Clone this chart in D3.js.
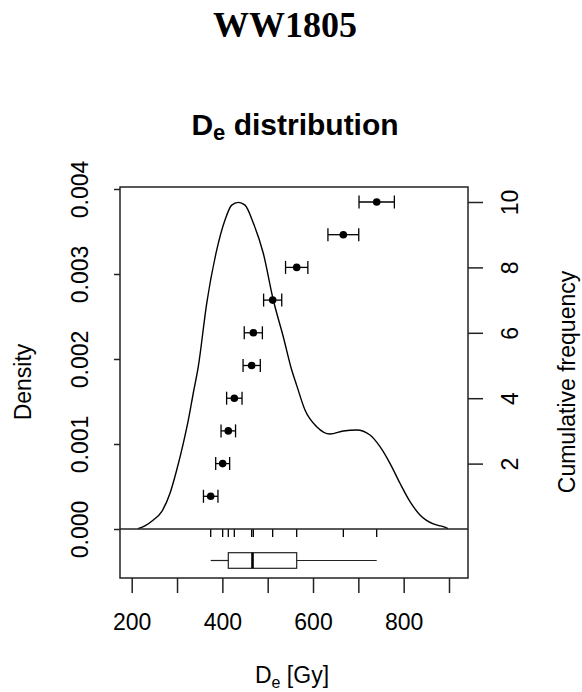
<!DOCTYPE html>
<html>
<head>
<meta charset="utf-8">
<script src="https://cdn.jsdelivr.net/npm/d3@7"></script>
<style>
  body { margin: 0; background: #fff; }
  text { font-family: "Liberation Sans", Arial, sans-serif; fill: #000; }
</style>
</head>
<body>
<div id="chart"></div>
<script>
var width = 582,
    height = 692;

// De values (Gy), their errors and cumulative rank
var deValues = [374.3, 400.7, 413.1, 426.4, 464.7, 468.3, 511.0, 564.0, 666.9, 740.5];
var deErrors = [16, 15.4, 16, 17, 19, 20, 20, 24.6, 34, 39];
var cumFreq  = [1, 2, 3, 4, 5, 6, 7, 8, 9, 10];

// density curve
var densX = [214, 230, 247.7, 266.2, 284.5, 299.3, 313.8, 324.9, 335.9, 346.9, 365.5, 387.5, 405.8, 420.6, 435.2,
             450, 468.3, 490.3, 512.4, 534.4, 553, 564, 582.3, 608.1, 637.5, 666.8, 696.4, 725.7, 747.8,
             769.8, 791.9, 814, 836, 865.3, 887.4, 898];
var densY = [0.000005, 0.00004, 0.000106, 0.000204, 0.00042, 0.000694, 0.001008, 0.00128, 0.0016, 0.00191, 0.002655,
             0.00328, 0.003635, 0.00381, 0.003843, 0.00381, 0.0036, 0.003244, 0.002694, 0.002262, 0.00187,
             0.00169, 0.0014, 0.001204, 0.001118, 0.001153, 0.001165, 0.001106, 0.000969, 0.000773, 0.000538,
             0.000322, 0.000165, 0.000059, 0.000027, 0.000005];

var densTicks = [0, 0.001, 0.002, 0.003, 0.004];
var cumTicks = [2, 4, 6, 8, 10];
var xTicks = [200, 300, 400, 500, 600, 700, 800, 900];
var xLabels = [200, 400, 600, 800];

var plotLeft = 120, plotRight = 468, plotTop = 187, plotMid = 529, plotBottom = 578;

var svg = d3.select("#chart").append("svg")
    .attr("width", width)
    .attr("height", height);

var x = d3.scaleLinear().domain([200, 900]).range([131.7, 449]);
var yDens = d3.scaleLinear().domain([0, 0.004]).range([plotMid, 189]);
var yCum = d3.scaleLinear().domain([0, 10]).range([plotMid, 202]);

// titles
svg.append("text")
    .attr("x", 285).attr("y", 37)
    .attr("text-anchor", "middle")
    .style("font-family", "'Liberation Serif', 'Times New Roman', serif")
    .style("font-weight", "bold")
    .style("font-size", "36px")
    .text("WW1805");

var t = svg.append("text")
    .attr("x", 295).attr("y", 135)
    .attr("text-anchor", "middle")
    .style("font-weight", "bold")
    .style("font-size", "30px");
t.append("tspan").text("D");
t.append("tspan").attr("dy", 5).style("font-size", "22px").text("e");
t.append("tspan").attr("dy", -5).text(" distribution");

// density curve
var line = d3.line()
    .x(function(d, i) { return x(d); })
    .y(function(d, i) { return yDens(densY[i]); })
    .curve(d3.curveMonotoneX);

svg.append("path")
    .datum(densX)
    .attr("d", line)
    .attr("fill", "none")
    .attr("stroke", "#000")
    .attr("stroke-width", 1.4);

// error bars + points
var pts = svg.selectAll(".pt")
    .data(deValues)
  .enter().append("g")
    .attr("class", "pt")
    .attr("transform", function(d, i) { return "translate(0," + yCum(cumFreq[i]) + ")"; });

pts.append("line")
    .attr("x1", function(d, i) { return x(d - deErrors[i]); })
    .attr("x2", function(d, i) { return x(d + deErrors[i]); })
    .attr("stroke", "#000").attr("stroke-width", 1.3);
pts.append("line")
    .attr("x1", function(d, i) { return x(d - deErrors[i]); })
    .attr("x2", function(d, i) { return x(d - deErrors[i]); })
    .attr("y1", -6.5).attr("y2", 6.5)
    .attr("stroke", "#000").attr("stroke-width", 1.3);
pts.append("line")
    .attr("x1", function(d, i) { return x(d + deErrors[i]); })
    .attr("x2", function(d, i) { return x(d + deErrors[i]); })
    .attr("y1", -6.5).attr("y2", 6.5)
    .attr("stroke", "#000").attr("stroke-width", 1.3);
pts.append("circle")
    .attr("cx", function(d) { return x(d); })
    .attr("r", 3.8)
    .attr("fill", "#000");

// rug
svg.selectAll(".rug")
    .data(deValues)
  .enter().append("line")
    .attr("x1", function(d) { return x(d); })
    .attr("x2", function(d) { return x(d); })
    .attr("y1", plotMid).attr("y2", plotMid + 8)
    .attr("stroke", "#000").attr("stroke-width", 1.3);

// boxplot (Tukey hinges)
var sorted = deValues.slice().sort(d3.ascending);
var n = sorted.length;
var lowerHalf = sorted.slice(0, Math.ceil(n / 2));
var upperHalf = sorted.slice(Math.floor(n / 2));
var q1 = d3.median(lowerHalf), med = d3.median(sorted), q3 = d3.median(upperHalf);
var boxY = 560.5, boxH = 7.8;

svg.append("line")
    .attr("x1", x(sorted[0])).attr("x2", x(q1))
    .attr("y1", boxY).attr("y2", boxY)
    .attr("stroke", "#222").attr("stroke-width", 1.2);
svg.append("line")
    .attr("x1", x(q3)).attr("x2", x(sorted[n - 1]))
    .attr("y1", boxY).attr("y2", boxY)
    .attr("stroke", "#222").attr("stroke-width", 1.2);
svg.append("rect")
    .attr("x", x(q1)).attr("y", boxY - boxH)
    .attr("width", x(q3) - x(q1)).attr("height", 2 * boxH)
    .attr("fill", "none").attr("stroke", "#222").attr("stroke-width", 1.2);
svg.append("line")
    .attr("x1", x(med)).attr("x2", x(med))
    .attr("y1", boxY - boxH).attr("y2", boxY + boxH)
    .attr("stroke", "#000").attr("stroke-width", 2.6);

// frame
svg.append("rect")
    .attr("x", plotLeft).attr("y", plotTop)
    .attr("width", plotRight - plotLeft).attr("height", plotBottom - plotTop)
    .attr("fill", "none").attr("stroke", "#222").attr("stroke-width", 1.5);
svg.append("line")
    .attr("x1", plotLeft).attr("x2", plotRight)
    .attr("y1", plotMid).attr("y2", plotMid)
    .attr("stroke", "#222").attr("stroke-width", 1.5);

// left axis
var axL = svg.append("g")
    .attr("transform", "translate(" + plotLeft + ",0)")
    .call(d3.axisLeft(yDens).tickValues(densTicks).tickSize(6).tickFormat(d3.format(".3f")));
axL.select(".domain").remove();
axL.selectAll("line").attr("stroke", "#222").attr("stroke-width", 1.5);
axL.selectAll("text")
    .attr("x", 0).attr("y", -32).attr("dy", 0)
    .attr("transform", "rotate(-90)")
    .attr("text-anchor", "middle")
    .style("font-size", "23px")
    .style("font-family", "'Liberation Sans', Arial, sans-serif")
    .attr("fill", "#222");

// right axis
var axR = svg.append("g")
    .attr("transform", "translate(" + plotRight + ",0)")
    .call(d3.axisRight(yCum).tickValues(cumTicks).tickSize(15));
axR.select(".domain").remove();
axR.selectAll("line").attr("stroke", "#222").attr("stroke-width", 1.5);
axR.selectAll("text")
    .attr("x", 0).attr("y", 50).attr("dy", 0)
    .attr("transform", "rotate(-90)")
    .attr("text-anchor", "middle")
    .style("font-size", "23px")
    .style("font-family", "'Liberation Sans', Arial, sans-serif")
    .attr("fill", "#222");

// bottom axis
var axB = svg.append("g")
    .attr("transform", "translate(0," + plotBottom + ")")
    .call(d3.axisBottom(x).tickValues(xTicks).tickSize(15)
      .tickFormat(function(d) { return xLabels.indexOf(d) >= 0 ? d : ""; }));
axB.select(".domain").remove();
axB.selectAll("line").attr("stroke", "#222").attr("stroke-width", 1.5);
axB.selectAll("text")
    .attr("y", 52).attr("dy", 0)
    .style("font-size", "23px")
    .style("font-family", "'Liberation Sans', Arial, sans-serif")
    .attr("fill", "#222");

// axis titles
svg.append("text")
    .attr("transform", "translate(31,382) rotate(-90)")
    .attr("text-anchor", "middle")
    .style("font-size", "23px")
    .attr("fill", "#222")
    .text("Density");

svg.append("text")
    .attr("transform", "translate(575,382) rotate(-90)")
    .attr("text-anchor", "middle")
    .style("font-size", "23px")
    .attr("fill", "#222")
    .text("Cumulative frequency");

var xl = svg.append("text")
    .attr("x", 292).attr("y", 683)
    .attr("text-anchor", "middle")
    .style("font-size", "23px")
    .attr("fill", "#222");
xl.append("tspan").text("D");
xl.append("tspan").attr("dy", 5).style("font-size", "16px").text("e");
xl.append("tspan").attr("dy", -5).text(" [Gy]");
</script>
</body>
</html>
